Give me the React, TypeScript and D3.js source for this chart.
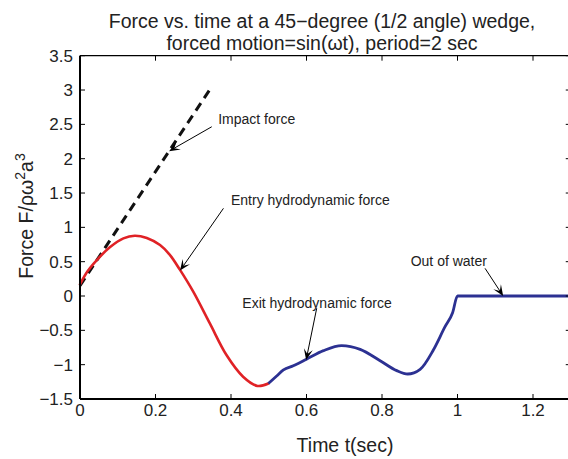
import React from 'react';
import * as d3 from 'd3';

const W = 568;
const H = 459;
const FONT = '"Liberation Sans", Arial, Helvetica, sans-serif';

// Data
const entryT = [0, 0.02, 0.044, 0.079, 0.115, 0.145, 0.177, 0.212, 0.238, 0.265, 0.3, 0.344, 0.388, 0.432, 0.47, 0.499];
const entryF = [0.17, 0.36, 0.52, 0.71, 0.84, 0.878, 0.845, 0.742, 0.6, 0.38, 0.063, -0.4, -0.86, -1.175, -1.31, -1.275];

const exitT = [0.499, 0.521, 0.539, 0.565, 0.6, 0.645, 0.693, 0.742, 0.795, 0.839, 0.868, 0.901, 0.936, 0.967, 0.987, 1.0, 1.3];
const exitF = [-1.275, -1.165, -1.077, -1.015, -0.92, -0.796, -0.723, -0.777, -0.942, -1.087, -1.136, -1.068, -0.786, -0.447, -0.243, 0, 0];

const impactT = [0, 0.349];
const impactF = [0.15, 3.05];

const xTicks = [0, 0.2, 0.4, 0.6, 0.8, 1.0, 1.2];
const xTickLabels = ['0', '0.2', '0.4', '0.6', '0.8', '1', '1.2'];
const yTicks = [-1.5, -1, -0.5, 0, 0.5, 1, 1.5, 2, 2.5, 3, 3.5];
const yTickLabels = ['\u22121.5', '\u22121', '\u22120.5', '0', '0.5', '1', '1.5', '2', '2.5', '3', '3.5'];

const annLabels = ['Impact force', 'Entry hydrodynamic force', 'Exit hydrodynamic force', 'Out of water'];
const annTextT = [0.366, 0.4, 0.43, 0.876];
const annTextF = [2.572, 1.397, -0.098, 0.514];
const annFromT = [0.349, 0.38, 0.627, 1.073];
const annFromF = [2.465, 1.277, -0.179, 0.403];
const annToT = [0.236, 0.265, 0.599, 1.121];
const annToF = [2.11, 0.37, -0.932, 0.0];

function Arrow({ x1, y1, x2, y2 }: { x1: number; y1: number; x2: number; y2: number }) {
  const dx = x2 - x1;
  const dy = y2 - y1;
  const len = Math.sqrt(dx * dx + dy * dy);
  const ux = dx / len;
  const uy = dy / len;
  const L = 11;
  const w = 4.5;
  const bx = x2 - ux * L;
  const by = y2 - uy * L;
  const nx = -uy;
  const ny = ux;
  const notchX = x2 - ux * L * 0.55;
  const notchY = y2 - uy * L * 0.55;
  const head = `M${x2},${y2} L${bx + nx * w},${by + ny * w} L${notchX},${notchY} L${bx - nx * w},${by - ny * w} Z`;
  return (
    <g>
      <line x1={x1} y1={y1} x2={notchX} y2={notchY} stroke="#000" strokeWidth={1} />
      <path d={head} fill="#000" />
    </g>
  );
}

export default function App() {
  const x = d3.scaleLinear().domain([0, 1.3]).range([80, 570.75]);
  const y = d3.scaleLinear().domain([-1.5, 3.5]).range([399, 55.7]);
  const line = d3
    .line<[number, number]>()
    .x((d) => x(d[0]))
    .y((d) => y(d[1]))
    .curve(d3.curveMonotoneX);
  const smooth = d3
    .line<[number, number]>()
    .x((d) => x(d[0]))
    .y((d) => y(d[1]))
    .curve(d3.curveCatmullRom.alpha(0.5));

  const entry: [number, number][] = entryT.map((t, i) => [t, entryF[i]]);
  const exit: [number, number][] = exitT.map((t, i) => [t, exitF[i]]);
  const impact: [number, number][] = impactT.map((t, i) => [t, impactF[i]]);

  const [x0, x1] = x.range();
  const [yb, yt] = y.range();

  return (
    <svg
      width={W}
      height={H}
      style={{ position: 'absolute', left: 0, top: 0, display: 'block', background: '#fff' }}
      fontFamily={FONT}
    >
      <rect x={0} y={0} width={W} height={H} fill="#fff" />
      {/* title */}
      <text x={322} y={28} textAnchor="middle" fontSize={19.5} fill="#222">
        Force vs. time at a 45{'\u2212'}degree (1/2 angle) wedge,
      </text>
      <text x={322} y={50} textAnchor="middle" fontSize={19.5} fill="#222">
        forced motion=sin({'\u03C9'}t), period=2 sec
      </text>

      {/* curves */}
      <path d={line(impact) || ''} fill="none" stroke="#111" strokeWidth={3} strokeDasharray="9,6" />
      <path d={smooth(entry) || ''} fill="none" stroke="#e02226" strokeWidth={2.6} strokeLinecap="round" />
      <path d={line(exit) || ''} fill="none" stroke="#2c3192" strokeWidth={2.8} />

      {/* axes box */}
      <line x1={x0} y1={yb} x2={x1} y2={yb} stroke="#000" strokeWidth={2} />
      <line x1={x0} y1={yt} x2={x1} y2={yt} stroke="#000" strokeWidth={1.2} />
      <line x1={x0} y1={yb} x2={x0} y2={yt} stroke="#000" strokeWidth={2} />
      <line x1={x1} y1={yb} x2={x1} y2={yt} stroke="#000" strokeWidth={1.2} />

      {xTicks.map((t, i) => (
        <g key={'xt' + i}>
          <line x1={x(t)} y1={yb} x2={x(t)} y2={yb - 5} stroke="#000" strokeWidth={1} />
          <line x1={x(t)} y1={yt} x2={x(t)} y2={yt + 5} stroke="#000" strokeWidth={1} />
          <text x={x(t)} y={416} textAnchor="middle" fontSize={17} fill="#222">
            {xTickLabels[i]}
          </text>
        </g>
      ))}
      {yTicks.map((v, i) => (
        <g key={'yt' + i}>
          <line x1={x0} y1={y(v)} x2={x0 + 5} y2={y(v)} stroke="#000" strokeWidth={1} />
          <line x1={x1} y1={y(v)} x2={x1 - 5} y2={y(v)} stroke="#000" strokeWidth={1} />
          <text x={73} y={y(v)} dy="0.36em" textAnchor="end" fontSize={17} fill="#222">
            {yTickLabels[i]}
          </text>
        </g>
      ))}

      {/* axis labels */}
      <text x={345} y={452} textAnchor="middle" fontSize={19.5} fill="#222">
        Time t(sec)
      </text>
      <text transform="translate(33,216) rotate(-90)" textAnchor="middle" fontSize={19.5} fill="#222">
        Force F/{'\u03C1\u03C9'}
        <tspan fontSize={14} dy={-8}>2</tspan>
        <tspan dy={8}>a</tspan>
        <tspan fontSize={14} dy={-8}>3</tspan>
      </text>

      {/* annotations */}
      {annLabels.map((lab, i) => (
        <g key={'ann' + i}>
          <text x={x(annTextT[i])} y={y(annTextF[i])} dy="0.36em" fontSize={14} fill="#222">
            {lab}
          </text>
          <Arrow x1={x(annFromT[i])} y1={y(annFromF[i])} x2={x(annToT[i])} y2={y(annToF[i])} />
        </g>
      ))}
    </svg>
  );
}
